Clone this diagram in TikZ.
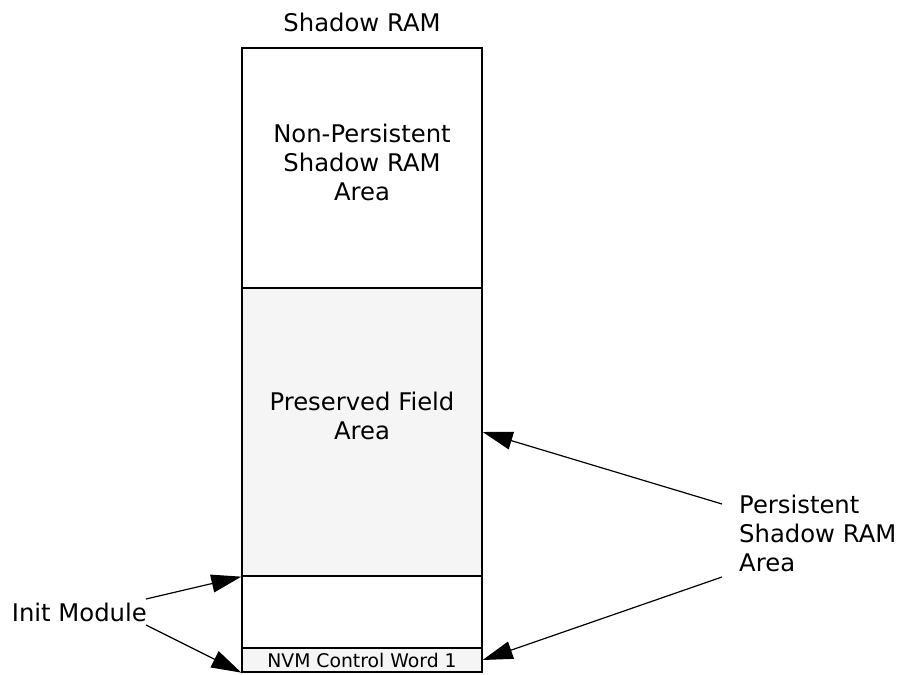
\documentclass[tikz,border=0pt]{standalone}
\usepackage{fontspec}
\setmainfont{DejaVu Sans}
\usetikzlibrary{arrows.meta}
\definecolor{shade}{HTML}{F5F5F5}
\tikzset{
  lbl/.style={font=\fontsize{24.3}{29}\selectfont, align=center, inner sep=0pt},
  region/.style={draw=black, line width=1.3pt, minimum width=240pt, inner sep=0pt},
  ptr/.style={line width=1.2pt, -{Triangle[length=30pt,width=18pt]}}
}
\begin{document}
\begin{tikzpicture}[x=1pt,y=-1pt]
\useasboundingbox (0,0) rectangle (900,675);
\node[region, fill=white, minimum height=240pt] (np) at (362,168) {};
\node[region, fill=shade, minimum height=288pt] (pres) at (362,432) {};
\node[region, fill=white, minimum height=72pt] (empty) at (362,612) {};
\node[region, fill=shade, minimum height=24pt, font=\fontsize{18.8}{20}\selectfont] (nvm) at (362,660) {NVM Control Word 1};
\node[lbl] (title) at (362,22) {Shadow RAM};
\node[lbl] (nptext) at (362,162) {Non-Persistent\\Shadow RAM\\Area};
\node[lbl] (prtext) at (362,416) {Preserved Field\\Area};
\node[lbl, align=left, anchor=west] (persist) at (739,533) {Persistent\\Shadow RAM\\Area};
\node[lbl, anchor=east] (init) at (147,612) {Init Module};
\coordinate (p1) at (722,504);
\coordinate (p2) at (722,577);
\coordinate (i1) at (146,599);
\coordinate (i2) at (146,625);
\draw[ptr] (p1) -- (pres.east);
\draw[ptr] (p2) -- (nvm.east);
\draw[ptr] (i1) -- (pres.south west);
\draw[ptr] (i2) -- (nvm.south west);
\end{tikzpicture}
\end{document}
